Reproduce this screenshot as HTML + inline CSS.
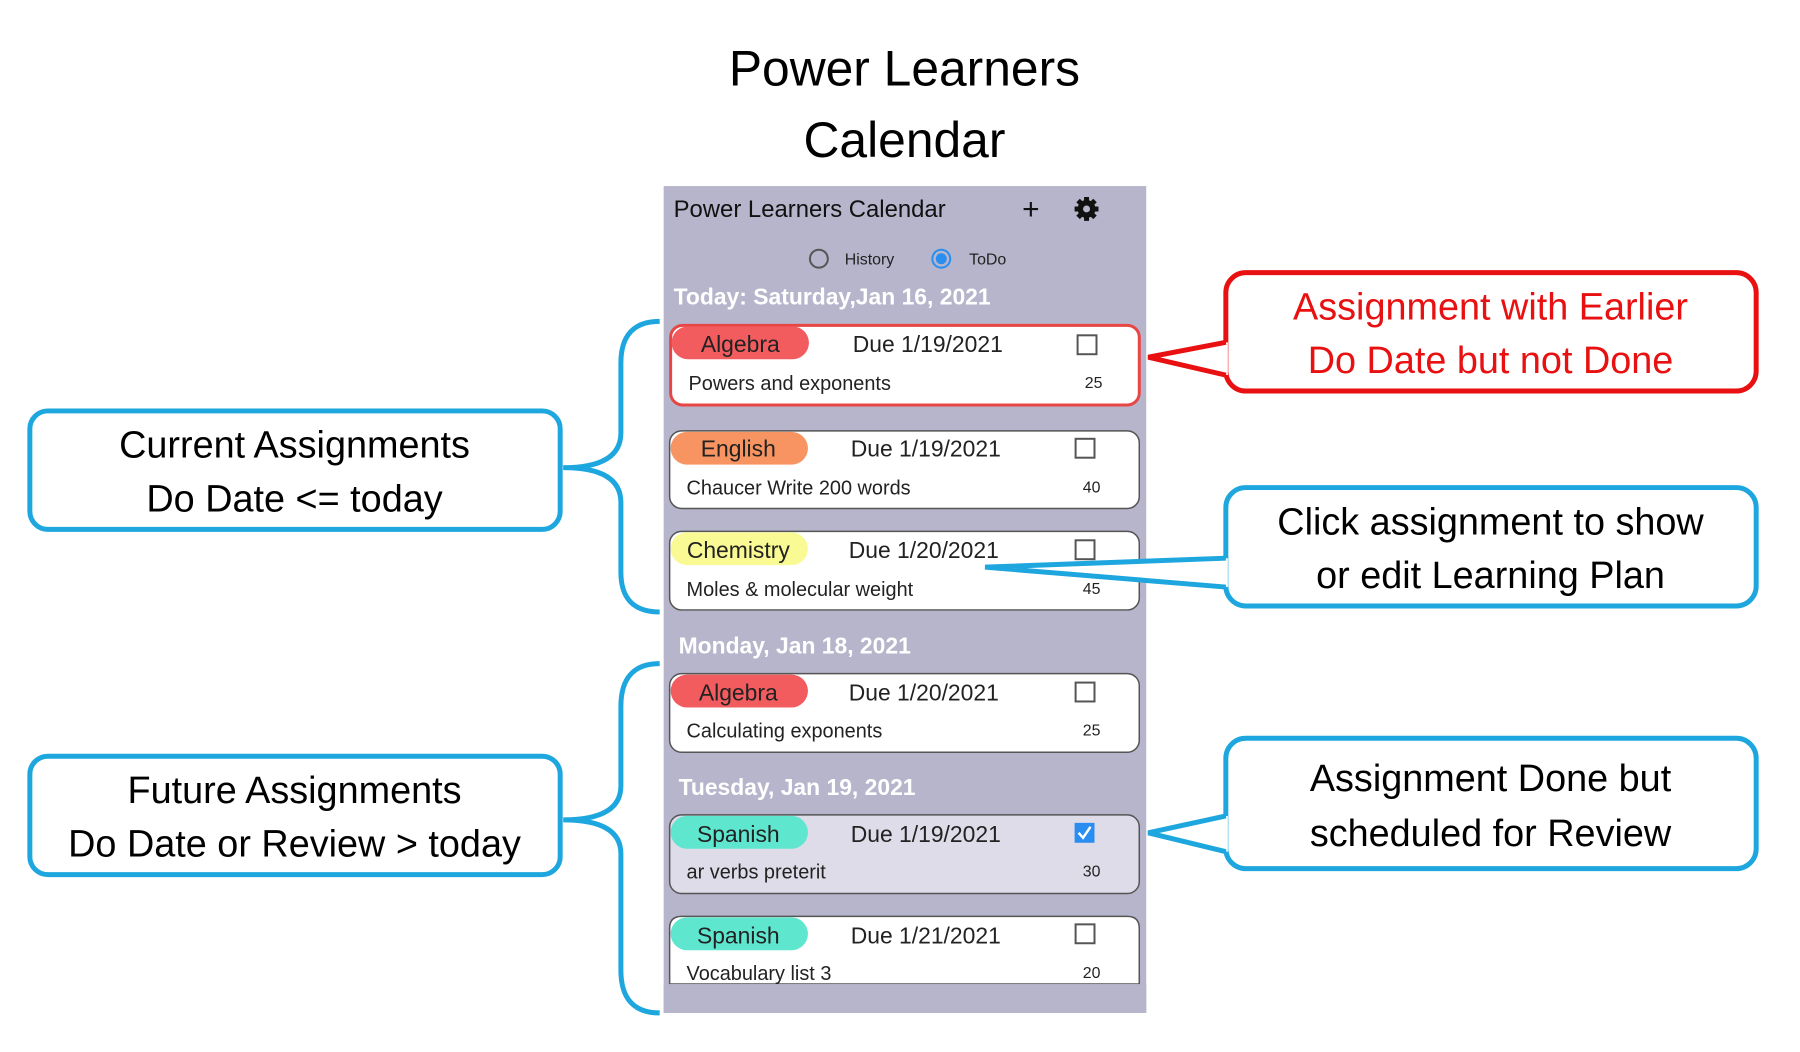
<!DOCTYPE html>
<html><head><meta charset="utf-8"><style>
html,body{margin:0;padding:0;background:#fff;width:1800px;height:1052px;overflow:hidden}
svg{display:block}
text{font-family:"Liberation Sans",sans-serif}
</style></head><body>
<svg width="1800" height="1052" viewBox="0 0 1800 1052" xmlns="http://www.w3.org/2000/svg">
<g transform="scale(0.995)">
<!-- Title -->
<text x="909" y="86" font-size="50" text-anchor="middle" fill="#000">Power Learners</text>
<text x="909" y="158" font-size="50" text-anchor="middle" fill="#000">Calendar</text>

<!-- Phone panel -->
<rect x="667" y="187" width="485" height="831" fill="#b7b5cb"/>
<text x="677" y="218" font-size="24" fill="#111">Power Learners Calendar</text>
<text x="1036" y="220" font-size="30" text-anchor="middle" fill="#111">+</text>
<g transform="translate(1092,210)" fill="#111">
 <circle r="9"/>
 <g stroke="#111" stroke-width="5">
  <line x1="0" y1="-12" x2="0" y2="12"/><line x1="-12" y1="0" x2="12" y2="0"/>
  <line x1="-8.5" y1="-8.5" x2="8.5" y2="8.5"/><line x1="-8.5" y1="8.5" x2="8.5" y2="-8.5"/>
 </g>
 <circle r="3.5" fill="#b7b5cb"/>
</g>
<circle cx="823" cy="260" r="9" fill="none" stroke="#555" stroke-width="2"/>
<text x="849" y="266" font-size="16" fill="#222">History</text>
<circle cx="946" cy="260" r="9" fill="none" stroke="#2a8ef0" stroke-width="2"/>
<circle cx="946" cy="260" r="5.5" fill="#2a8ef0"/>
<text x="974" y="266" font-size="16" fill="#222">ToDo</text>

<text x="677" y="306" font-size="23" font-weight="bold" fill="#fff">Today: Saturday,Jan 16, 2021</text>
<text x="682" y="657" font-size="23" font-weight="bold" fill="#fff">Monday, Jan 18, 2021</text>
<text x="682" y="799" font-size="23" font-weight="bold" fill="#fff">Tuesday, Jan 19, 2021</text>

<!-- Card 1 -->
<rect x="674" y="327" width="471" height="80" rx="12" fill="#fff" stroke="#e84545" stroke-width="3"/>
<rect x="675" y="328" width="138" height="33" rx="16.5" fill="#f25c5f"/>
<text x="744" y="354" font-size="23" text-anchor="middle" fill="#222">Algebra</text>
<text x="857" y="354" font-size="23" fill="#222">Due 1/19/2021</text>
<rect x="1083" y="337" width="19" height="19" fill="none" stroke="#555" stroke-width="2"/>
<text x="692" y="392" font-size="20" fill="#222">Powers and exponents</text>
<text x="1108" y="390" font-size="16" text-anchor="end" fill="#222">25</text>

<!-- Card 2 -->
<rect x="673" y="433" width="472" height="78" rx="12" fill="#fff" stroke="#555" stroke-width="1.5"/>
<rect x="674" y="434" width="138" height="33" rx="16.5" fill="#f79462"/>
<text x="742" y="459" font-size="23" text-anchor="middle" fill="#222">English</text>
<text x="855" y="459" font-size="23" fill="#222">Due 1/19/2021</text>
<rect x="1081" y="441" width="19" height="19" fill="none" stroke="#555" stroke-width="2"/>
<text x="690" y="497" font-size="20" fill="#222">Chaucer Write 200 words</text>
<text x="1106" y="495" font-size="16" text-anchor="end" fill="#222">40</text>

<!-- Card 3 -->
<rect x="673" y="534" width="472" height="79" rx="12" fill="#fff" stroke="#555" stroke-width="1.5"/>
<rect x="674" y="535" width="138" height="33" rx="16.5" fill="#fafa95"/>
<text x="742" y="561" font-size="23" text-anchor="middle" fill="#222">Chemistry</text>
<text x="853" y="561" font-size="23" fill="#222">Due 1/20/2021</text>
<rect x="1081" y="543" width="19" height="19" fill="none" stroke="#555" stroke-width="2"/>
<text x="690" y="599" font-size="20" fill="#222">Moles &amp; molecular weight</text>
<text x="1106" y="597" font-size="16" text-anchor="end" fill="#222">45</text>

<!-- Card 4 -->
<rect x="673" y="677" width="472" height="79" rx="12" fill="#fff" stroke="#555" stroke-width="1.5"/>
<rect x="674" y="678" width="138" height="33" rx="16.5" fill="#f25c5f"/>
<text x="742" y="704" font-size="23" text-anchor="middle" fill="#222">Algebra</text>
<text x="853" y="704" font-size="23" fill="#222">Due 1/20/2021</text>
<rect x="1081" y="686" width="19" height="19" fill="none" stroke="#555" stroke-width="2"/>
<text x="690" y="741" font-size="20" fill="#222">Calculating exponents</text>
<text x="1106" y="739" font-size="16" text-anchor="end" fill="#222">25</text>

<!-- Card 5 -->
<rect x="673" y="819" width="472" height="79" rx="12" fill="#dddce8" stroke="#555" stroke-width="1.5"/>
<rect x="674" y="820" width="138" height="33" rx="16.5" fill="#5ee6cf"/>
<text x="742" y="846" font-size="23" text-anchor="middle" fill="#222">Spanish</text>
<text x="855" y="846" font-size="23" fill="#222">Due 1/19/2021</text>
<rect x="1080" y="827" width="20" height="20" fill="#2a8ef0"/>
<path d="M1084 837 L1088.5 842 L1096 831" fill="none" stroke="#fff" stroke-width="2.5"/>
<text x="690" y="883" font-size="20" fill="#222">ar verbs preterit</text>
<text x="1106" y="881" font-size="16" text-anchor="end" fill="#222">30</text>

<!-- Card 6 (clipped) -->
<path d="M673 989 L673 933 Q673 921 685 921 L1133 921 Q1145 921 1145 933 L1145 989 Z" fill="#fff" stroke="#555" stroke-width="1.5"/>
<rect x="667" y="989" width="485" height="29" fill="#b7b5cb"/>
<rect x="674" y="922" width="138" height="33" rx="16.5" fill="#5ee6cf"/>
<text x="742" y="948" font-size="23" text-anchor="middle" fill="#222">Spanish</text>
<text x="855" y="948" font-size="23" fill="#222">Due 1/21/2021</text>
<rect x="1081" y="929" width="19" height="19" fill="none" stroke="#555" stroke-width="2"/>
<text x="690" y="985" font-size="20" fill="#222">Vocabulary list 3</text>
<text x="1106" y="983" font-size="16" text-anchor="end" fill="#222">20</text>

<!-- Left boxes -->
<g fill="#fff" stroke="#1ea7de" stroke-width="5">
 <rect x="30" y="413" width="533" height="119" rx="18"/>
 <rect x="30" y="760" width="533" height="119" rx="18"/>
</g>
<g font-size="38" text-anchor="middle" fill="#000">
 <text x="296" y="460">Current Assignments</text>
 <text x="296" y="514">Do Date &lt;= today</text>
 <text x="296" y="807">Future Assignments</text>
 <text x="296" y="861">Do Date or Review &gt; today</text>
</g>

<!-- Braces -->
<g fill="none" stroke="#1ea7de" stroke-width="5">
 <path d="M663 323 Q624 323 624 365 L624 435 Q624 470 566 470 Q624 470 624 505 L624 575 Q624 615 663 615"/>
 <path d="M663 667 Q624 667 624 710 L624 790 Q624 824 566 824 Q624 824 624 858 L624 975 Q624 1018 663 1018"/>
</g>

<!-- Right boxes -->
<rect x="1232" y="274" width="533" height="119" rx="20" fill="#fff" stroke="#e81010" stroke-width="5"/>
<rect x="1232" y="490" width="533" height="119" rx="20" fill="#fff" stroke="#1ea7de" stroke-width="5"/>
<rect x="1232" y="742" width="533" height="131" rx="20" fill="#fff" stroke="#1ea7de" stroke-width="5"/>

<!-- Pointers -->
<polygon points="1234,344 1154,359 1234,377" fill="#fff"/>
<path d="M1232 344 L1154 359 L1232 377" fill="none" stroke="#e81010" stroke-width="5" stroke-linejoin="miter"/>
<polygon points="1234,561 990,570 1234,590" fill="#fff"/>
<path d="M1232 561 L990 570 L1232 590" fill="none" stroke="#1ea7de" stroke-width="5"/>
<polygon points="1234,820 1154,837 1234,856" fill="#fff"/>
<path d="M1232 820 L1154 837 L1232 856" fill="none" stroke="#1ea7de" stroke-width="5"/>

<g font-size="38" text-anchor="middle">
 <text x="1498" y="321" fill="#e81010">Assignment with Earlier</text>
 <text x="1498" y="375" fill="#e81010">Do Date but not Done</text>
 <text x="1498" y="537" fill="#000">Click assignment to show</text>
 <text x="1498" y="591" fill="#000">or edit Learning Plan</text>
 <text x="1498" y="795" fill="#000">Assignment Done but</text>
 <text x="1498" y="850" fill="#000">scheduled for Review</text>
</g>
</g>
</svg>
</body></html>
